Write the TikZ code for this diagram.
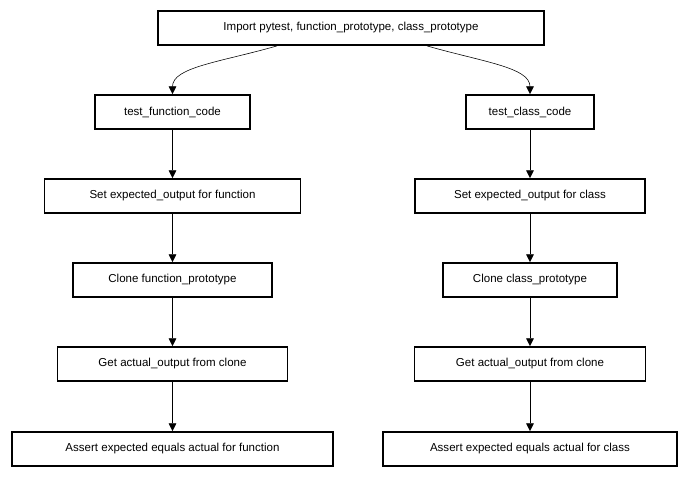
\documentclass[tikz,border=0pt]{standalone}
\usepackage{fontspec}
\setmainfont{Liberation Sans}
\usepackage{tikz}
\usetikzlibrary{arrows.meta}
\tikzset{>={Triangle[length=5.5pt,width=5.5pt]}}
\tikzset{stage/.style={draw,line width=1.3pt,minimum height=0.85cm,inner sep=0pt,font=\fontsize{8.2}{10}\selectfont}}

\begin{document}
\begin{tikzpicture}
\useasboundingbox (0,0) rectangle (17.225,11.925);

\node (imp) at (8.775,11.225) [stage,minimum width=9.65cm] {Import pytest, function\_prototype, class\_prototype};
\node (F1) at (4.3125,9.125) [stage,minimum width=3.875cm] {test\_function\_code};
\node (F2) at (4.3125,7.025) [stage,minimum width=6.4cm] {Set expected\_output for function};
\node (F3) at (4.3125,4.925) [stage,minimum width=4.975cm] {Clone function\_prototype};
\node (F4) at (4.3125,2.825) [stage,minimum width=5.75cm] {Get actual\_output from clone};
\node (F5) at (4.3125,0.7) [stage,minimum width=8.025cm] {Assert expected equals actual for function};
\node (C1) at (13.25,9.125) [stage,minimum width=3.2cm] {test\_class\_code};
\node (C2) at (13.25,7.025) [stage,minimum width=5.75cm] {Set expected\_output for class};
\node (C3) at (13.25,4.925) [stage,minimum width=4.35cm] {Clone class\_prototype};
\node (C4) at (13.25,2.825) [stage,minimum width=5.775cm] {Get actual\_output from clone};
\node (C5) at (13.25,0.7) [stage,minimum width=7.35cm] {Assert expected equals actual for class};

\draw [->] ([xshift=-1.85cm]imp.south) to [out=196,in=90,out looseness=1.3,in looseness=0.6] (F1.north);
\draw [->] ([xshift=1.9cm]imp.south) to [out=-16,in=90,out looseness=1.3,in looseness=0.6] (C1.north);
\draw [->] (F1) -- (F2);
\draw [->] (F2) -- (F3);
\draw [->] (F3) -- (F4);
\draw [->] (F4) -- (F5);
\draw [->] (C1) -- (C2);
\draw [->] (C2) -- (C3);
\draw [->] (C3) -- (C4);
\draw [->] (C4) -- (C5);

\end{tikzpicture}
\end{document}
